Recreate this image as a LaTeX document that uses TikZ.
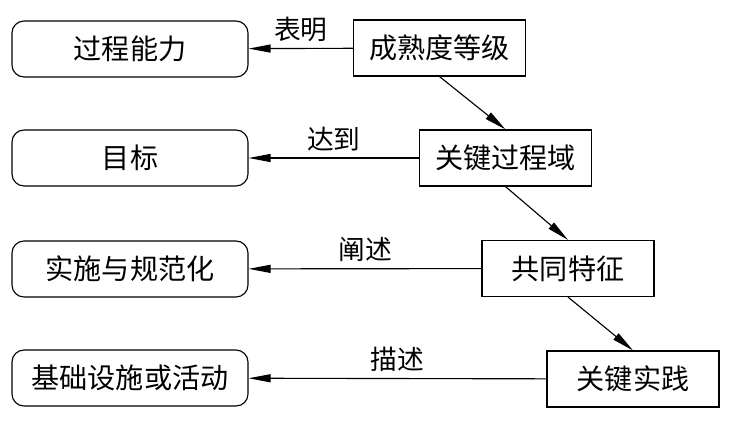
\documentclass[tikz,border=0pt]{standalone}
\usepackage{fontspec}
\setmainfont{Noto Sans CJK SC}
\usetikzlibrary{arrows.meta}

\begin{document}
\begin{tikzpicture}[x=0.25mm, y=-0.25mm, line width=0.8pt,
        goal/.style={rectangle, draw, rounded corners=3mm, minimum width=59mm, minimum height=14mm, font=\fontsize{20}{24}\selectfont},
        level/.style={rectangle, draw, minimum width=43mm, minimum height=14mm, font=\fontsize{20}{24}\selectfont},
        rel/.style={-{Triangle[length=5.5mm,width=2mm]}},
        verb/.style={above=1pt, font=\fontsize{19}{22}\selectfont}]
            \useasboundingbox (0, 0) rectangle (730, 422);

            \node[goal] at (130, 49)    (cap) {过程能力};
            \node[goal] at (130, 158)   (goal) {目标};
            \node[goal] at (130, 269)   (inst) {实施与规范化};
            \node[goal] at (130, 378)   (infra) {基础设施或活动};

            \node[level] at (439.5, 48)   (ml) {成熟度等级};
            \node[level] at (505.5, 158)  (kpa) {关键过程域};
            \node[level] at (568, 268.5)  (cf) {共同特征};
            \node[level] at (633, 379)    (kp) {关键实践};

            \draw [rel] (ml) -- node[verb] {表明} (cap);
            \draw [rel] (kpa) -- node[verb] {达到} (goal);
            \draw [rel] (cf) -- node[verb] {阐述} (inst);
            \draw [rel] (kp) -- node[verb] {描述} (infra);

            \draw [rel] (ml.south) -- (kpa.north);
            \draw [rel] (kpa.south) -- (cf.north);
            \draw [rel] (cf.south) -- (kp.north);
        \end{tikzpicture}
\end{document}
